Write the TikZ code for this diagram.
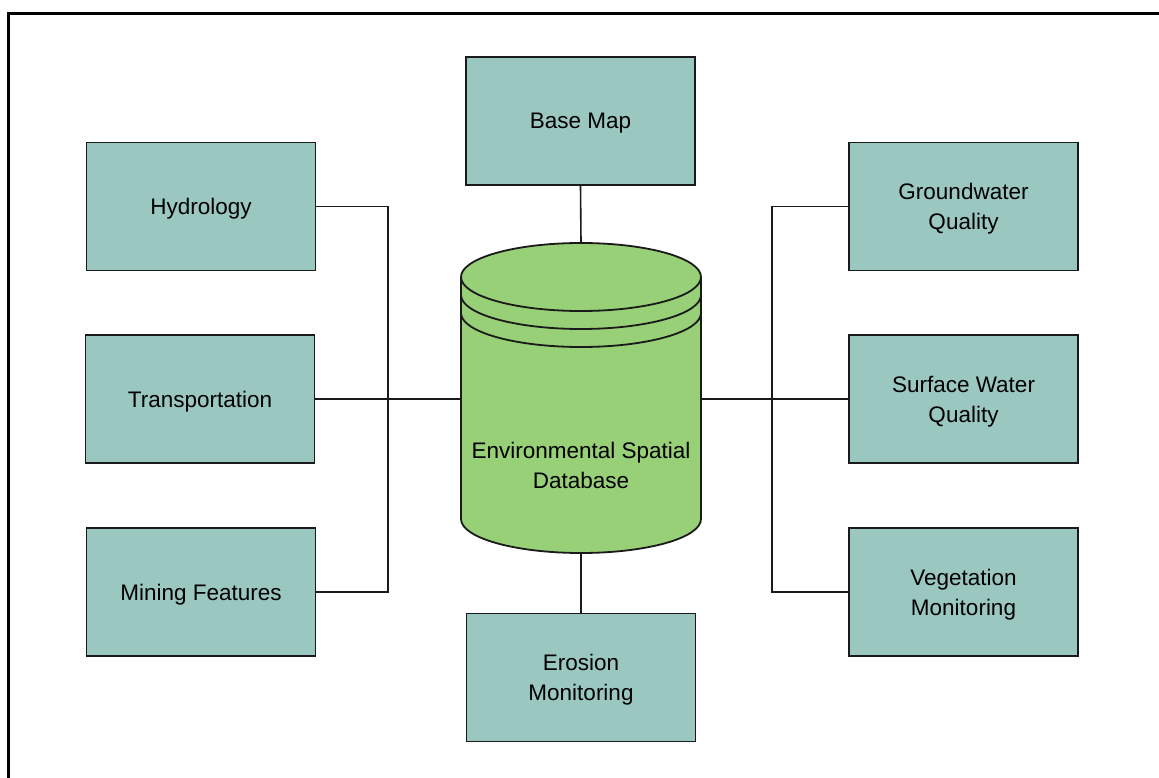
\documentclass[tikz,border=0pt]{standalone}
\usepackage{fontspec}
\setmainfont{Liberation Sans}
\definecolor{boxfill}{HTML}{9AC7BF}
\definecolor{dbfill}{HTML}{97D077}
\definecolor{ink}{HTML}{1A1A1A}
\begin{document}
\begin{tikzpicture}[x=1pt,y=-1pt,
  card/.style={draw=ink, line width=1.8pt, fill=boxfill, minimum width=229pt,
    minimum height=128pt, align=center, inner sep=2pt, text depth=0pt,
    font=\fontsize{22.5}{30}\selectfont},
  link/.style={draw=ink, line width=1.6pt},
  dbline/.style={draw=ink, line width=1.8pt}]
\useasboundingbox (0,0) rectangle (1159,778);
\fill[white] (0,0) rectangle (1159,778);
\begin{scope}
\clip (0,0) rectangle (1159,778);
\draw[black, line width=3pt] (8,14) rectangle (1180,800);
\end{scope}

% database cylinder
\fill[dbfill] (461,277) -- (461,519)
  arc[start angle=180, end angle=0, x radius=120, y radius=34]
  -- (701,277) arc[start angle=0, end angle=-180, x radius=120, y radius=34] -- cycle;
\draw[dbline] (581,277) ellipse [x radius=120, y radius=34];
\draw[dbline] (461,295) arc[start angle=180, end angle=0, x radius=120, y radius=34];
\draw[dbline] (461,313) arc[start angle=180, end angle=0, x radius=120, y radius=34];
\draw[dbline] (461,277) -- (461,519)
  arc[start angle=180, end angle=0, x radius=120, y radius=34] -- (701,277);
\node[align=center, font=\fontsize{22.5}{30}\selectfont] (db) at (581,465)
  {Environmental Spatial\\Database};
\coordinate (dbtop) at (581,243);
\coordinate (dbbot) at (581,553);
\coordinate (dbleft) at (461,399);
\coordinate (dbright) at (701,399);

% boxes
\node[card] (base) at (580.5,121) {Base Map};
\node[card] (ero) at (581,677.5) {Erosion\\Monitoring};
\node[card] (hyd) at (201,206.5) {Hydrology};
\node[card] (tra) at (200,399) {Transportation};
\node[card] (min) at (201,592) {Mining Features};
\node[card] (gw) at (963.5,206.5) {Groundwater\\Quality};
\node[card] (sw) at (963.5,399) {Surface Water\\Quality};
\node[card] (veg) at (963.5,592) {Vegetation\\Monitoring};

% connectors
\draw[link] (base.south) -- (dbtop);
\draw[link] (dbbot) -- (ero.north -| dbbot);
\draw[link] (hyd.east) -- (388,206.5) |- (min.east);
\draw[link] (tra.east) -- (dbleft);
\draw[link] (gw.west) -- (772,206.5) |- (veg.west);
\draw[link] (dbright) -- (sw.west);
\end{tikzpicture}
\end{document}
